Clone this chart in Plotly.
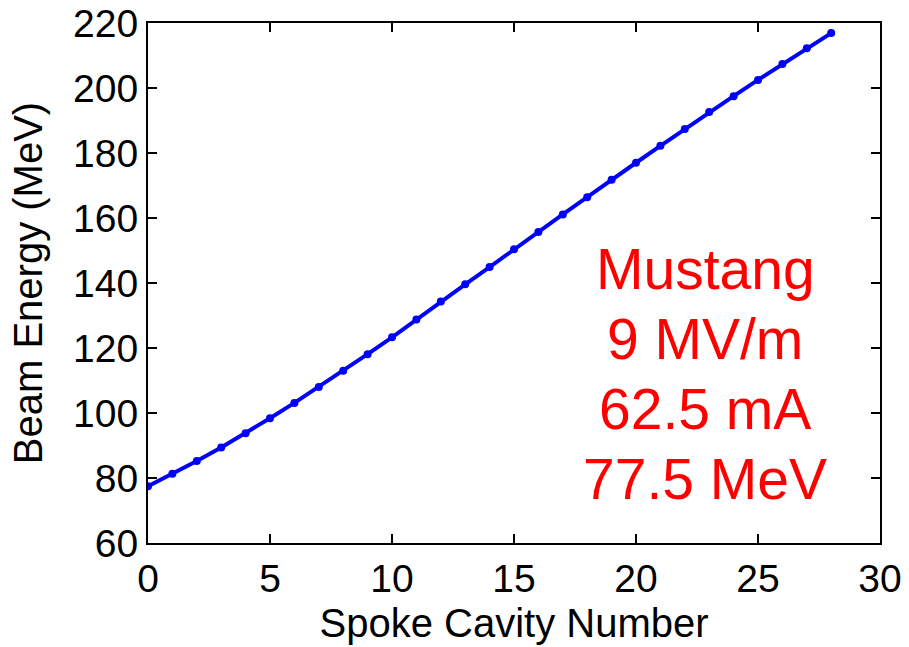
import plotly.graph_objects as go

cavity = list(range(29))
energy = [77.5, 81.3, 85.2, 89.4, 93.8, 98.4, 103.1, 108.0, 113.0, 118.1,
          123.3, 128.8, 134.3, 139.6, 144.9, 150.4, 155.7, 161.1, 166.4, 171.8,
          177.0, 182.2, 187.4, 192.6, 197.5, 202.5, 207.4, 212.2, 216.9]
x_ticks = [0, 5, 10, 15, 20, 25, 30]
y_ticks = [60, 80, 100, 120, 140, 160, 180, 200, 220]
note_lines = ["Mustang", "9 MV/m", "62.5 mA", "77.5 MeV"]

FONT = "Liberation Sans, Arial, sans-serif"

fig = go.Figure()
fig.add_trace(go.Scatter(
    x=cavity, y=energy, mode="lines+markers",
    line=dict(color="#0000ff", width=4),
    marker=dict(color="#0000ff", size=8),
    showlegend=False,
))

# note text, one line per annotation, positioned in paper coordinates
note_top = 0.527      # paper y of first line centre
note_step = 0.1346    # paper spacing between lines
for i, line in enumerate(note_lines):
    fig.add_annotation(
        x=0.761, y=note_top - i * note_step, xref="paper", yref="paper",
        text=line, showarrow=False,
        font=dict(family=FONT, size=57, color="#ff0000"),
        xanchor="center", yanchor="middle",
    )

axis_common = dict(
    showline=True, linecolor="black", linewidth=2, mirror="ticks",
    ticks="inside", ticklen=9, tickwidth=2, tickcolor="black",
    showgrid=False, zeroline=False, automargin=False,
    tickfont=dict(family=FONT, size=39, color="black"),
)

fig.update_xaxes(range=[0, 30], tickvals=x_ticks,
                 title=dict(text="Spoke Cavity Number", font=dict(family=FONT, size=40, color="black"), standoff=10),
                 **axis_common)
fig.update_yaxes(range=[60, 220], tickvals=y_ticks,
                 title=dict(text="Beam Energy (MeV)", font=dict(family=FONT, size=40, color="black"), standoff=18),
                 **axis_common)

fig.update_layout(
    width=909, height=647,
    margin=dict(l=148, r=29, t=23, b=104),
    paper_bgcolor="white", plot_bgcolor="white",
)

fig.write_html("out.html")
